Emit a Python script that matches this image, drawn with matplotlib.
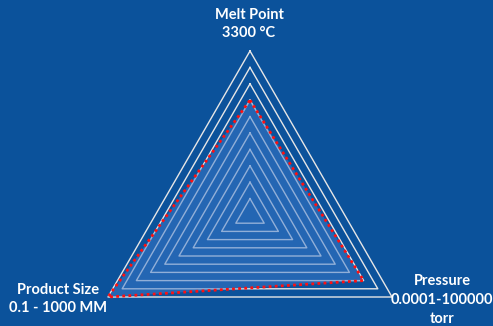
import numpy as np
import matplotlib.pyplot as plt

# 雷达图数据
categories = ['Melt Point\n3300 °C', 'Pressure\n0.0001-100000\ntorr', 'Product Size\n0.1 - 1000 MM']
values = [7, 8, 10]
ring_levels = list(range(1, 11))

BG = '#0B529B'

fig = plt.figure(figsize=(4.93, 3.26), dpi=100)
fig.patch.set_facecolor(BG)
plt.rcParams['font.family'] = ['Lato', 'DejaVu Sans']

# 极坐标轴, 中心约在 (250, 215) 像素, 半径 164 像素
cx, cy, rad = 250, 215, 164
W, H = 493, 326
ax = fig.add_axes([(cx - rad) / W, (H - cy - rad) / H, 2 * rad / W, 2 * rad / H],
                  projection='polar')
ax.set_facecolor('none')
ax.set_theta_offset(np.pi / 2)
ax.set_theta_direction(-1)
ax.set_ylim(0, 10)
ax.grid(False)
ax.set_xticks([])
ax.set_yticks([])
ax.spines['polar'].set_visible(False)

n = len(categories)
angles = np.linspace(0, 2 * np.pi, n, endpoint=False).tolist()
angles_closed = angles + angles[:1]

# 三角形网格
for r in ring_levels:
    ax.plot(angles_closed, [r] * (n + 1), color='#E6E6E6', lw=1.0, clip_on=False, zorder=1)

# 数据区域
vals_closed = values + values[:1]
ax.fill(angles_closed, vals_closed, color='#3E7ACB', alpha=0.5, lw=0, zorder=2, clip_on=False)
ax.plot(angles_closed, vals_closed, color='#FF1010', lw=2.0, ls=(0, (1, 1.2)),
        zorder=3, clip_on=False)

# 标签
txt = dict(color='white', fontsize=10.5, fontweight='bold', ha='center', va='center',
           linespacing=1.45)
fig.text(249 / W, 1 - 24 / H, categories[0], **txt)
fig.text(442 / W, 1 - 300 / H, categories[1], **txt)
fig.text(58 / W, 1 - 299 / H, categories[2], **txt)

fig.savefig('out.png', dpi=100, facecolor=BG)
